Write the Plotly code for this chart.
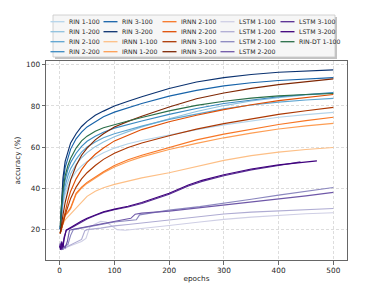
import plotly.graph_objects as go

# ---------------- data ----------------
EPOCHS = [1, 3, 6, 10, 15, 20, 30, 40, 50, 65, 80, 100, 125, 150, 200, 250, 300, 350, 400, 450, 500]

RIN_1_100 = [20, 26, 32, 37, 41, 44, 48, 50.8, 53, 55.3, 57.2, 59.5, 61.6, 63.2, 66, 68.5, 70.8, 72.8, 74.5, 75.8, 76.9]
RIN_1_200 = [20, 27, 33, 39, 43.5, 47, 51.5, 54.8, 57.3, 60.2, 62.5, 65, 67.5, 69.8, 73.8, 77.3, 80.2, 82.4, 84.1, 85.4, 86.3]
RIN_2_100 = [20, 28, 35, 41, 46, 49.5, 54, 57.5, 60, 62.5, 64.5, 66.5, 68.5, 70.2, 73.5, 76.2, 78.6, 80.5, 81.9, 82.9, 83.7]
RIN_2_200 = [20, 29, 37, 44, 49, 52.5, 57, 60.3, 62.8, 65.3, 67.2, 69.2, 71, 72.7, 75.9, 78.8, 81.2, 83, 84.5, 85.6, 86.5]
RIN_3_100 = [20, 31, 42, 50, 55, 59, 64, 67.3, 69.8, 72.5, 74.8, 77, 79.2, 81.2, 84.8, 87.6, 89.8, 91.3, 92.4, 93.2, 93.8]
RIN_3_200 = [20, 33, 45, 53, 58, 62, 66.5, 70, 72.5, 75.5, 77.5, 80, 82.3, 84.5, 88.5, 91.7, 93.8, 95.3, 96.4, 97.1, 97.6]

IRNN_1_100 = [18, 20, 22.5, 24.5, 26, 27.5, 30.5, 33.5, 36, 38.5, 40.2, 41.8, 43.5, 45, 47.5, 50.5, 53.5, 55.8, 57.5, 58.8, 59.8]
IRNN_1_200 = [18, 20, 23, 26.5, 28, 30, 37, 40, 42.3, 45, 47.5, 50.3, 53, 55.2, 58.8, 61.8, 64.5, 66.8, 68.8, 70.3, 71.5]
IRNN_2_100 = [18, 20, 23, 27, 28.5, 30.5, 37.5, 40.5, 42.8, 45.5, 48, 51, 53.8, 56, 59.9, 63.5, 66.3, 68.8, 71, 72.9, 74.5]
IRNN_2_200 = [18, 20.5, 24, 29, 34, 38.5, 44.5, 49, 52.5, 56.5, 59.5, 63, 65.8, 68.5, 72.3, 75.5, 78.2, 80.6, 82.6, 84.2, 85.6]
IRNN_3_100 = [18, 20.5, 23, 27, 31, 35, 40.5, 44.5, 47.5, 51, 54, 57, 59.8, 62, 65.5, 68.7, 71.4, 73.8, 75.9, 77.7, 79.3]
IRNN_3_200 = [18, 22, 27, 33, 39, 44, 51, 56, 59.5, 63.5, 66.5, 69.8, 72.5, 75, 79.5, 83.5, 86.3, 88.6, 90.4, 91.9, 93.2]

LSTM_1_100_EP = [0, 3, 6, 10, 15, 20, 30, 40, 48, 55, 65, 75, 85, 95, 105, 120, 150, 200, 256, 300, 350, 400, 450, 500]
LSTM_1_100 = [11, 10, 12, 10.5, 11.5, 12, 13, 14, 15.5, 21, 22.5, 23.8, 23.5, 21.5, 19.8, 19.5, 20.3, 21.8, 23.5, 24.8, 25.9, 26.8, 27.5, 28.0]
LSTM_1_200_EP = [0, 3, 6, 10, 15, 20, 30, 40, 46, 50, 75, 100, 125, 150, 200, 256, 300, 350, 400, 450, 500]
LSTM_1_200 = [10, 12, 10.5, 11, 12, 12.5, 13.5, 15, 19.3, 19.8, 20.5, 21.6, 22.3, 23, 24.5, 26.2, 27.4, 28.3, 29, 29.6, 30.1]
LSTM_2_100_EP = [0, 3, 6, 10, 15, 20, 25, 35, 50, 75, 100, 140, 146, 160, 200, 256, 300, 350, 400, 450, 500]
LSTM_2_100 = [11, 14, 10, 12, 12.5, 17, 19.8, 20.3, 21.3, 22.5, 23.5, 24.6, 27, 27.6, 29.3, 31, 32.6, 34.6, 36.6, 38.5, 40.3]
LSTM_2_200_EP = [0, 3, 6, 10, 14, 18, 25, 35, 50, 75, 100, 130, 138, 150, 200, 256, 300, 350, 400, 450, 500]
LSTM_2_200 = [13, 10.5, 12, 11, 14, 19.5, 20, 20.5, 21.5, 22.5, 24, 25.3, 27.3, 27.8, 28.8, 30.4, 31.6, 33.1, 34.6, 36.2, 37.9]
LSTM_3_100_EP = [0, 2, 4, 6, 8, 10, 12, 20, 30, 40, 50, 65, 80, 100, 125, 150, 175, 200, 235, 260, 300, 350, 400, 440]
LSTM_3_100 = [11, 13, 10, 12, 16, 18.5, 19.5, 20.5, 22, 23.6, 25, 26.7, 28.2, 29.5, 30.8, 32.5, 34.6, 37, 41, 43.3, 46, 48.9, 51, 52.8]
LSTM_3_200_EP = [0, 2, 4, 6, 8, 10, 12, 20, 30, 40, 50, 65, 80, 100, 125, 150, 175, 200, 235, 260, 300, 350, 400, 440, 470]
LSTM_3_200 = [12, 10, 14, 11, 15, 17, 19.5, 20.8, 22.5, 24, 25.3, 27, 28.5, 29.8, 31.2, 33, 35.2, 37.5, 41.5, 43.8, 46.5, 49.3, 51.3, 52.6, 53.3]

RIN_DT_1_100 = [21, 31, 39, 46, 51, 54.5, 59.5, 63, 65.3, 67.7, 69.4, 71, 72.7, 74.4, 77.6, 80.3, 82.3, 83.8, 84.9, 85.6, 86.1]

SERIES = [
    ("RIN 1-100", EPOCHS, RIN_1_100),
    ("RIN 1-200", EPOCHS, RIN_1_200),
    ("RIN 2-100", EPOCHS, RIN_2_100),
    ("RIN 2-200", EPOCHS, RIN_2_200),
    ("RIN 3-100", EPOCHS, RIN_3_100),
    ("RIN 3-200", EPOCHS, RIN_3_200),
    ("IRNN 1-100", EPOCHS, IRNN_1_100),
    ("IRNN 1-200", EPOCHS, IRNN_1_200),
    ("IRNN 2-100", EPOCHS, IRNN_2_100),
    ("IRNN 2-200", EPOCHS, IRNN_2_200),
    ("IRNN 3-100", EPOCHS, IRNN_3_100),
    ("IRNN 3-200", EPOCHS, IRNN_3_200),
    ("LSTM 1-100", LSTM_1_100_EP, LSTM_1_100),
    ("LSTM 1-200", LSTM_1_200_EP, LSTM_1_200),
    ("LSTM 2-100", LSTM_2_100_EP, LSTM_2_100),
    ("LSTM 2-200", LSTM_2_200_EP, LSTM_2_200),
    ("LSTM 3-100", LSTM_3_100_EP, LSTM_3_100),
    ("LSTM 3-200", LSTM_3_200_EP, LSTM_3_200),
    ("RIN-DT 1-100", EPOCHS, RIN_DT_1_100),
]

COLORS = [
    "#b5d4ea", "#8fc1de", "#5ea5d1", "#3a89c1", "#1763a9", "#0b3270",
    "#fdbf86", "#fd9d53", "#f77726", "#df4f05", "#ac3803", "#7f2704",
    "#cfcfe5", "#afacd3", "#8b87bf", "#6f58a8", "#572c92", "#3f007d",
    "#2a6e48",
]

X_TICKS = [0, 100, 200, 300, 400, 500]
Y_TICKS = [20, 40, 60, 80, 100]

# ---------------- figure ----------------
W, H = 365, 299
ML, MR, MT, MB = 46, 18, 61, 39
PW, PH = W - ML - MR, H - MT - MB
FONT = "DejaVu Sans"
TXT = "#262626"


def px_x(px):
    return (px - ML) / PW


def px_y(py):
    return (H - MB - py) / PH


fig = go.Figure()
for (name, ep, vals), col in zip(SERIES, COLORS):
    fig.add_trace(go.Scatter(x=ep, y=vals, mode="lines", name=name,
                             line=dict(color=col, width=1.15),
                             showlegend=False, hoverinfo="skip"))

axis_common = dict(
    showline=True, linecolor="#666666", linewidth=1, mirror=True,
    ticks="outside", ticklen=3.5, tickcolor="#444444", tickwidth=0.8,
    showgrid=True, gridcolor="#cfcfcf", gridwidth=0.7, griddash="3px,2px",
    zeroline=False, tickfont=dict(family=FONT, size=7.3, color=TXT),
)

fig.update_xaxes(range=[-25, 525], tickvals=X_TICKS,
                 title=dict(text="epochs", font=dict(family=FONT, size=7.3, color=TXT), standoff=1),
                 **axis_common)
fig.update_yaxes(range=[5.0, 101.9], tickvals=Y_TICKS,
                 title=dict(text="accuracy (%)", font=dict(family=FONT, size=7.3, color=TXT), standoff=4),
                 **axis_common)

# ---------------- legend (drawn manually, 5 columns, column-major) ----------------
BOX = (53, 15, 335, 57)
COL_TEXT_X = [69, 122, 181, 239, 299]
ROW_Y = [21.7, 31.7, 41.7, 51.7]
HANDLE = 14
GAP = 4.5

shapes = []
annotations = []
shapes.append(dict(type="rect", xref="paper", yref="paper",
                   x0=px_x(BOX[0] + 2), x1=px_x(BOX[2] + 2), y0=px_y(BOX[3] + 2), y1=px_y(BOX[1] + 2),
                   fillcolor="rgba(120,120,120,0.45)", line=dict(width=0), layer="above"))
shapes.append(dict(type="rect", xref="paper", yref="paper",
                   x0=px_x(BOX[0]), x1=px_x(BOX[2]), y0=px_y(BOX[3]), y1=px_y(BOX[1]),
                   fillcolor="#f6f6f6", line=dict(color="#c8c8c8", width=0.8), layer="above"))

for i, ((name, _, _), col) in enumerate(zip(SERIES, COLORS)):
    c, r = divmod(i, 4)
    tx = COL_TEXT_X[c]
    ty = ROW_Y[r]
    shapes.append(dict(type="line", xref="paper", yref="paper",
                       x0=px_x(tx - GAP - HANDLE), x1=px_x(tx - GAP),
                       y0=px_y(ty), y1=px_y(ty),
                       line=dict(color=col, width=1.3), layer="above"))
    annotations.append(dict(text=name, xref="paper", yref="paper",
                            x=px_x(tx - 1), y=px_y(ty), xanchor="left", yanchor="middle",
                            showarrow=False, borderpad=0,
                            font=dict(family=FONT, size=6.2, color=TXT)))

fig.update_layout(
    width=W, height=H,
    margin=dict(l=ML, r=MR, t=MT, b=MB, pad=0, autoexpand=False),
    paper_bgcolor="white", plot_bgcolor="white",
    showlegend=False,
    shapes=shapes, annotations=annotations,
    font=dict(family=FONT, color=TXT),
)

fig.write_html("out.html", config={"displayModeBar": False, "staticPlot": True},
               post_script="document.body.style.margin='0px';")
